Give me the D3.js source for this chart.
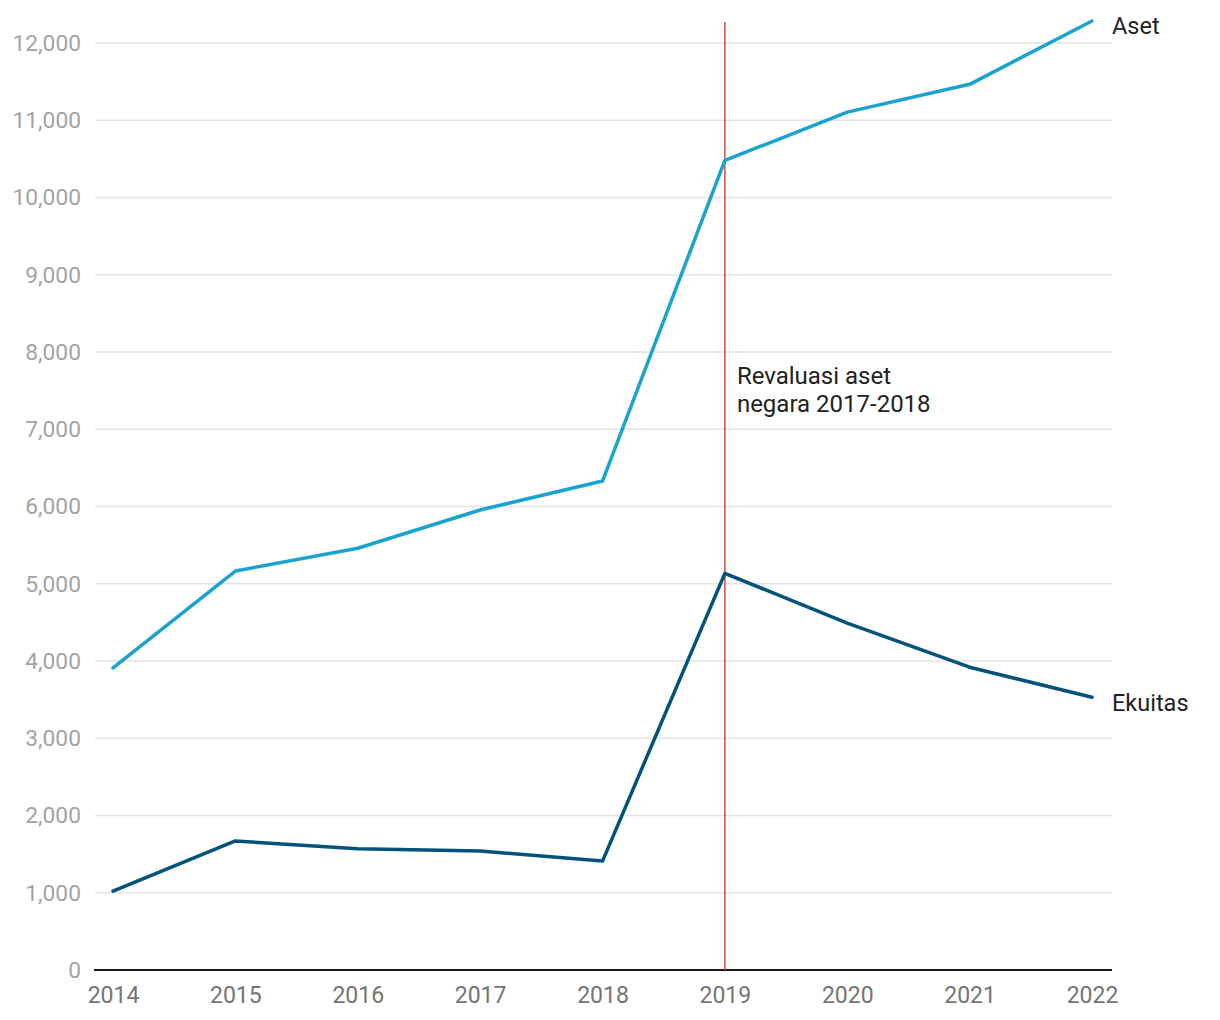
<!DOCTYPE html>
<html>
<head>
<meta charset="utf-8">
<script src="https://cdn.jsdelivr.net/npm/d3@7"></script>
<style>
  body { margin: 0; background: #fff; }
  svg { font-family: Roboto, sans-serif; }
</style>
</head>
<body>
<svg id="chart" width="1220" height="1020"></svg>
<script>
const years = [2014, 2015, 2016, 2017, 2018, 2019, 2020, 2021, 2022]
const aset = [3910, 5165, 5460, 5955, 6330, 10480, 11105, 11465, 12285]
const ekuitas = [1020, 1670, 1570, 1540, 1410, 5135, 4490, 3920, 3530]
const yTicks = [0, 1000, 2000, 3000, 4000, 5000, 6000, 7000, 8000, 9000, 10000, 11000, 12000]
const markerYear = 2019
const markerNote = ['Revaluasi aset', 'negara 2017-2018']

const margin = { left: 95, right: 108, top: 22, bottom: 50 }
const width = 1220
const height = 1020

const x = d3.scaleLinear()
  .domain([2014, 2022])
  .range([113, 1092])

const y = d3.scaleLinear()
  .domain([0, 12000])
  .range([970, 43])

const svg = d3.select('#chart')

// gridlines
svg.append('g')
  .selectAll('line')
  .data(yTicks.filter((d) => d > 0))
  .enter().append('line')
  .attr('x1', margin.left)
  .attr('x2', width - margin.right)
  .attr('y1', (d) => y(d))
  .attr('y2', (d) => y(d))
  .attr('stroke', '#e3e3e3')
  .attr('stroke-width', 1.5)

// y labels
svg.append('g')
  .selectAll('text')
  .data(yTicks)
  .enter().append('text')
  .attr('x', 81)
  .attr('y', (d) => y(d))
  .attr('dy', '0.35em')
  .attr('text-anchor', 'end')
  .attr('fill', '#a3a3a3')
  .attr('font-size', 22.8)
  .text((d) => d3.format(',')(d))

// x axis
const xAxis = svg.append('g')
  .attr('transform', `translate(0,${y(0)})`)
  .call(d3.axisBottom(x).tickValues(years).tickFormat(d3.format('d')).tickSize(0).tickPadding(17))
xAxis.select('.domain').remove()
xAxis.selectAll('text')
  .attr('fill', '#757575')
  .attr('font-size', 23)
  .attr('font-family', 'Roboto, sans-serif')

svg.append('line')
  .attr('x1', 94)
  .attr('x2', width - margin.right)
  .attr('y1', y(0))
  .attr('y2', y(0))
  .attr('stroke', '#1a1a1a')
  .attr('stroke-width', 2)

// marker
svg.append('line')
  .attr('x1', x(markerYear))
  .attr('x2', x(markerYear))
  .attr('y1', margin.top)
  .attr('y2', y(0))
  .attr('stroke', '#d04a45')
  .attr('stroke-width', 1.5)

svg.append('text')
  .attr('x', x(markerYear) + 12)
  .attr('y', 384)
  .attr('fill', '#222')
  .attr('font-size', 24)
  .selectAll('tspan')
  .data(markerNote)
  .enter().append('tspan')
  .attr('x', x(markerYear) + 12)
  .attr('dy', (d, i) => (i === 0 ? 0 : 28))
  .text((d) => d)

// lines
const line = d3.line()
  .x((d, i) => x(years[i]))
  .y((d) => y(d))

const series = [
  { name: 'Aset', values: aset, color: '#1ba3cf' },
  { name: 'Ekuitas', values: ekuitas, color: '#01537a' }
]

series.forEach((s) => {
  svg.append('path')
    .datum(s.values)
    .attr('d', line)
    .attr('fill', 'none')
    .attr('stroke', s.color)
    .attr('stroke-width', 3.5)
    .attr('stroke-linejoin', 'round')
    .attr('stroke-linecap', 'round')

  svg.append('text')
    .attr('x', 1112)
    .attr('y', y(s.values[s.values.length - 1]) + 5)
    .attr('dy', '0.35em')
    .attr('fill', '#222')
    .attr('font-size', 23.5)
    .text(s.name)
})
</script>
</body>
</html>
